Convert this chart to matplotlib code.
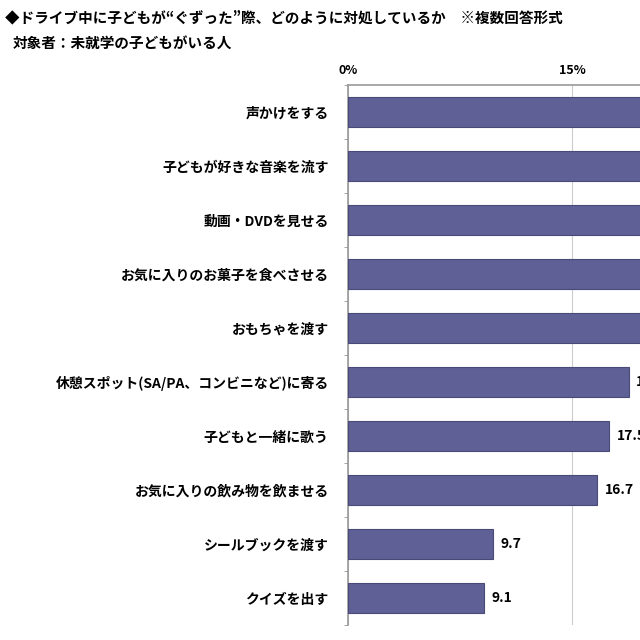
import matplotlib
matplotlib.use("Agg")
import matplotlib.pyplot as plt
from matplotlib.ticker import FixedLocator

plt.rcParams['font.family'] = ['Noto Sans CJK JP', 'DejaVu Sans']

categories = ["声かけをする", "子どもが好きな音楽を流す", "動画・DVDを見せる",
              "お気に入りのお菓子を食べさせる", "おもちゃを渡す",
              "休憩スポット(SA/PA、コンビニなど)に寄る", "子どもと一緒に歌う",
              "お気に入りの飲み物を飲ませる", "シールブックを渡す", "クイズを出す"]
values = [55.0, 50.0, 40.0, 38.0, 30.0, 18.8, 17.5, 16.7, 9.7, 9.1]
tick_vals = [0, 15]
tick_labels = ["0%", "15%"]

fig = plt.figure(figsize=(6.4, 6.4), dpi=100)
ax = fig.add_axes([0.544, 0.023, 0.456, 0.844])
n = len(categories)
ys = list(range(n))
ax.barh(ys, values, height=0.56, color="#5f6095", edgecolor="#4a4a78", linewidth=0.8, zorder=3)
for y, v in zip(ys, values):
    ax.text(v + 0.5, y, f"{v:.1f}", va="center", ha="left", fontsize=10, fontweight="bold", zorder=4)
ax.set_xlim(0, 19.55)
ax.set_ylim(n - 0.5, -0.5)
ax.set_yticks(ys)
ax.set_yticklabels(categories, fontsize=10, fontweight="bold")
ax.yaxis.set_minor_locator(FixedLocator([i + 0.5 for i in range(-1, n)]))
ax.tick_params(axis="y", which="major", length=0, pad=14)
ax.tick_params(axis="y", which="minor", length=3, color="#999999")
ax.xaxis.tick_top()
ax.set_xticks(tick_vals)
ax.set_xticklabels(tick_labels, fontsize=9, fontweight="bold")
ax.tick_params(axis="x", length=0, pad=6)
ax.grid(axis="x", color="#cccccc", linewidth=0.8, zorder=0)
for s in ["left", "top"]:
    ax.spines[s].set_color("#999999")
    ax.spines[s].set_linewidth(1.2)
ax.spines["right"].set_visible(False)
ax.spines["bottom"].set_visible(False)

fig.text(0.008, 0.985, "◆ドライブ中に子どもが“ぐずった”際、どのように対処しているか　※複数回答形式",
         fontsize=10.5, fontweight="bold", va="top", ha="left")
fig.text(0.02, 0.945, "対象者：未就学の子どもがいる人", fontsize=10.5, fontweight="bold", va="top", ha="left")

fig.savefig("out.png", dpi=100)
